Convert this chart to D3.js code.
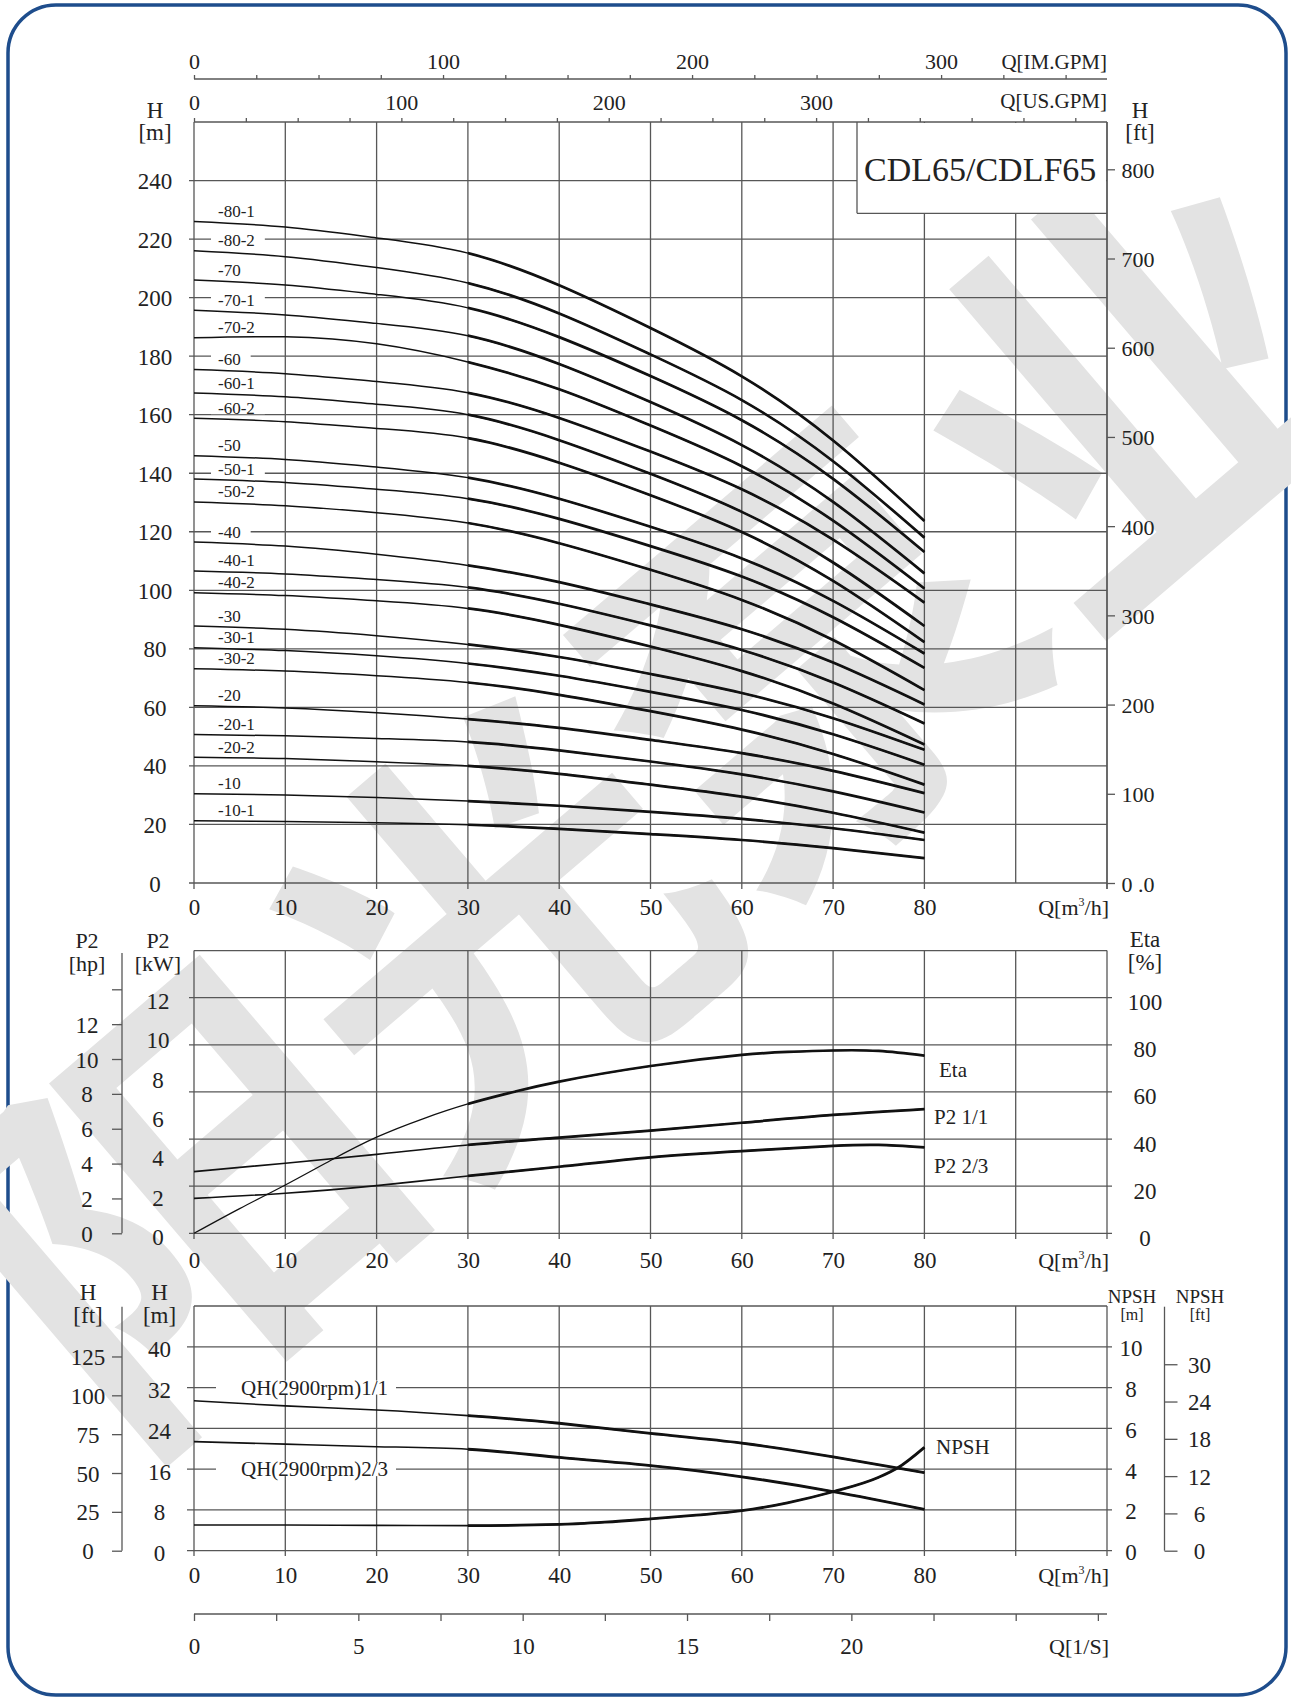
<!DOCTYPE html>
<html><head><meta charset="utf-8">
<script src="https://cdnjs.cloudflare.com/ajax/libs/d3/7.8.5/d3.min.js"></script>
<style>
body{margin:0;background:#fff}
</style>
</head><body>
<svg id="c" width="1291" height="1697"></svg>
<script>
// ---------------- DATA ----------------
const qPoints = [0,10,20,30,40,50,60,70,80];
const stageLabels = ["-80-1","-80-2","-70","-70-1","-70-2","-60","-60-1","-60-2","-50","-50-1","-50-2",
  "-40","-40-1","-40-2","-30","-30-1","-30-2","-20","-20-1","-20-2","-10","-10-1"];
const headCurves = [
  [226,224.1,220.4,215.2,204.2,189.6,173.1,151.2,123.7],
  [216,214.0,210.3,205,194.6,180.6,165.0,144.1,118],
  [206,204.3,201.1,196.5,186.5,173.2,158.1,138.1,113.1],
  [195.7,194.1,191.2,187,177.3,164.3,149.6,130.2,105.8],
  [186.3,186.6,184.2,178,168.7,156.3,142.4,123.8,100.6],
  [175.4,174.0,171.3,167.5,158.9,147.4,134.5,117.3,95.8],
  [167.4,166.1,163.6,160,151.3,139.8,126.8,109.5,87.8],
  [158.8,157.6,155.3,152,143.6,132.5,119.9,103.2,82.3],
  [146,144.7,142.1,138.5,131.3,121.7,110.9,96.4,78.4],
  [138,136.8,134.5,131.3,124.4,115.1,104.7,90.8,73.5],
  [130.2,128.9,126.5,123,116.1,107.0,96.7,83.0,65.9],
  [116.5,115.1,112.3,108.5,102.8,95.2,86.7,75.3,61],
  [106.6,105.6,103.7,101,95.4,88.0,79.6,68.5,54.5],
  [99.2,98.2,96.4,93.8,88.2,80.8,72.4,61.3,47.3],
  [87.8,86.7,84.5,81.5,77.2,71.4,64.9,56.3,45.5],
  [80.4,79.4,77.6,75,70.8,65.3,59.1,50.8,40.4],
  [73.2,72.4,70.8,68.5,64.3,58.7,52.4,44.1,33.6],
  [60.6,59.8,58.2,56,53.0,48.9,44.4,38.3,30.7],
  [50.7,50.3,49.4,48.2,45.3,41.5,37.1,31.3,24.1],
  [43,42.5,41.4,40,37.3,33.6,29.5,24.0,17.2],
  [30.5,30.1,29.2,28,26.4,24.3,21.9,18.7,14.7],
  [21.3,21.0,20.6,19.9,18.5,16.7,14.7,11.9,8.5]
];
const etaQ = [0,5,10,15,20,25,30,35,40,50,60,65,70,75,80];
const etaValues = [0,10.5,20.5,31,40.8,48.5,54.9,60,64.4,71,75.7,77,77.6,77.4,75.4];
const p2FullValues = [3.14,3.57,4.02,4.5,4.87,5.23,5.63,6.03,6.33];
const p2TwoThirdQ = [0,10,20,30,40,50,60,70,75,80];
const p2TwoThirdValues = [1.78,2.04,2.43,2.92,3.39,3.87,4.19,4.45,4.5,4.38];
const qhFullValues = [29.4,28.4,27.6,26.5,25,23.0,21.1,18.4,15.3];
const qhTwoThirdValues = [21.4,20.9,20.4,19.9,18.3,16.7,14.5,11.6,8.1];
const npshQ = [0,10,20,30,40,45,50,55,60,65,70,75,77,80];
const npshValues = [1.26,1.26,1.24,1.23,1.29,1.4,1.56,1.74,1.96,2.35,2.89,3.6,4.04,5.07];

const qTicks = [0,10,20,30,40,50,60,70,80];
const headTicksM = [0,20,40,60,80,100,120,140,160,180,200,220,240];
const headTicksFt = [0,100,200,300,400,500,600,700,800];
const imGpmLabels = [0,100,200,300];
const usGpmLabels = [0,100,200,300];
const etaTicks = [0,20,40,60,80,100];
const kwTicks = [0,2,4,6,8,10,12];
const hpTicks = [0,2,4,6,8,10,12];
const bottomHmTicks = [0,8,16,24,32,40];
const bottomHftTicks = [0,25,50,75,100,125];
const npshMTicks = [0,2,4,6,8,10];
const npshFtTicks = [0,6,12,18,24,30];
const lsLabels = [0,5,10,15,20];
const watermarkText = "阳光泵业";

// ---------------- SETUP ----------------
const SERIF = '"Liberation Serif","Times New Roman",serif';
const svg = d3.select("#c");
const GRID = "#575757", GW = 1.3;
const FT = 3.28084;
const x = d3.scaleLinear([0,100],[194,1107]);
const xIm = d3.scaleLinear([0,100*3.6662],[194,1107]);
const xUs = d3.scaleLinear([0,100*4.40287],[194,1107]);
const xLs = d3.scaleLinear([0,100/3.6],[194,1107]);
const yTop = d3.scaleLinear([0,260],[883,122]);
const yTopFt = d3.scaleLinear([0,260*FT],[883,122]);
const yMid = d3.scaleLinear([0,120],[1233.3,950.6]);
const yKw = d3.scaleLinear([0,14.4],[1233.3,950.6]);
const yHp = d3.scaleLinear([0,14],[1233.3,989.3]);
const yBot = d3.scaleLinear([0,48],[1550.7,1306]);
const yBotFt = d3.scaleLinear([0,48*FT],[1550.7,1306]);
const yNpsh = d3.scaleLinear([0,12],[1550.7,1306]);
const yNpshFt = d3.scaleLinear([0,12*FT],[1550.7,1306]);

function ln(g,x1,y1,x2,y2,w=GW,c=GRID){
  g.append("line").attr("x1",x1).attr("y1",y1).attr("x2",x2).attr("y2",y2)
   .attr("stroke",c).attr("stroke-width",w);
}
function txt(g,xx,yy,s,size,anchor="start"){
  return g.append("text").attr("x",xx).attr("y",yy).attr("font-size",size)
    .attr("text-anchor",anchor).attr("fill","#222").style("font-family",SERIF).text(s);
}
function styleAxis(g,size,anchor,tx,ty){
  g.attr("font-family",null).attr("font-size",null);
  g.select(".domain").remove();
  g.selectAll(".tick line").attr("stroke",GRID).attr("stroke-width",GW);
  const t = g.selectAll(".tick text").attr("font-size",size).attr("fill","#222").style("font-family",SERIF);
  if(anchor) t.attr("text-anchor",anchor);
  if(tx!=null) t.attr("x",tx);
  if(ty!=null) t.attr("dy",null).attr("y",ty);
}
function qLabel(g,yy){
  const t = g.append("text").attr("x",1109).attr("y",yy).attr("font-size",22).attr("text-anchor","end")
    .attr("fill","#222").style("font-family",SERIF);
  t.append("tspan").text("Q[m");
  t.append("tspan").attr("font-size",12).attr("dy",-9).text("3");
  t.append("tspan").attr("dy",9).text("/h]");
}
const defs = svg.append("defs");
function clipFrom(id,q,y0,y1){
  defs.append("clipPath").attr("id",id).append("rect")
    .attr("x",x(q)).attr("y",y0).attr("width",1291).attr("height",y1-y0);
}
clipFrom("thickTop",30,100,900);
clipFrom("thickMid",30,940,1240);
clipFrom("thickBot",30,1290,1560);
function drawCurve(g,qs,vals,yS,clipId,thin,thick,curve=d3.curveNatural){
  const gen = d3.line().x((d,i)=>x(qs[i])).y(d=>yS(d)).curve(curve);
  g.append("path").attr("d",gen(vals)).attr("fill","none").attr("stroke","#111").attr("stroke-width",thin);
  g.append("path").attr("d",gen(vals)).attr("fill","none").attr("stroke","#111").attr("stroke-width",thick)
    .attr("clip-path",`url(#${clipId})`);
}

// ---------------- OUTER FRAME ----------------
svg.append("rect").attr("x",8).attr("y",5).attr("width",1278).attr("height",1690)
  .attr("rx",48).attr("ry",48).attr("fill","#fff").attr("stroke","#1e4d8c").attr("stroke-width",3.5);

// ---------------- WATERMARK ----------------
svg.append("text").attr("x",0).attr("y",0)
  .attr("transform","translate(640,775) rotate(-40.5)")
  .attr("text-anchor","middle").attr("dominant-baseline","central")
  .attr("font-size",420).attr("font-weight",700)
  .style("font-family",'"Noto Sans CJK SC",sans-serif')
  .attr("fill","#e3e3e3").text(watermarkText);

// ---------------- TOP CHART ----------------
const topG = svg.append("g");
headTicksM.forEach(h=>ln(topG,189,yTop(h),1107,yTop(h)));
ln(topG,194,122,1107,122);
d3.range(0,101,10).forEach(q=>ln(topG,x(q),122,x(q),q===90?883:889));
topG.append("rect").attr("x",857).attr("y",123).attr("width",249).attr("height",90.3).attr("fill","#fff");
ln(topG,857,122,857,213.3); ln(topG,857,213.3,1107,213.3);
ln(topG,1107,122,1107,889);
txt(topG,864,181,"CDL65/CDLF65",34);

const gIm = topG.append("g").attr("transform","translate(0,79)")
  .call(d3.axisTop(xIm).tickValues(d3.range(0,351,25)).tickSize(4).tickPadding(6)
  .tickFormat(d=>imGpmLabels.includes(d)?d:""));
styleAxis(gIm,22);
ln(topG,194,79,1107,79);
txt(topG,1107,69,"Q[IM.GPM]",21,"end");
const gUs = topG.append("g").attr("transform","translate(0,122)")
  .call(d3.axisTop(xUs).tickValues(d3.range(0,426,25)).tickSize(4).tickPadding(8)
  .tickFormat(d=>usGpmLabels.includes(d)?d:""));
styleAxis(gUs,22);
txt(topG,1107,108,"Q[US.GPM]",21,"end");

const gH = topG.append("g").attr("transform","translate(194,0)")
  .call(d3.axisLeft(yTop).tickValues(headTicksM).tickSize(0));
styleAxis(gH,23,"middle",-39,8);
txt(topG,155,118,"H",23,"middle");
txt(topG,155,140,"[m]",23,"middle");
const gFt = topG.append("g").attr("transform","translate(1107,0)")
  .call(d3.axisRight(yTopFt).tickValues(headTicksFt).tickSize(8)
  .tickFormat(d=>d===0?"0 .0":d));
styleAxis(gFt,22,"middle",31,8);
txt(topG,1140,118,"H",23,"middle");
txt(topG,1140,140,"[ft]",23,"middle");
const gQ1 = topG.append("g").attr("transform","translate(0,883)")
  .call(d3.axisBottom(x).tickValues(qTicks).tickSize(0));
styleAxis(gQ1,23,"middle",null,32);
qLabel(topG,915);

headCurves.forEach(c=>drawCurve(topG,qPoints,c,yTop,"thickTop",1.5,2.7));
stageLabels.forEach((s,i)=>{
  const yy = yTop(headCurves[i][0]) - 10;
  const r = topG.append("rect").attr("x",211).attr("y",yy-6).attr("height",12).attr("fill","#fff");
  const t = txt(topG,218,yy+5.5,s,17);
  r.attr("width",t.node().getComputedTextLength()+17);
});

// ---------------- MIDDLE CHART ----------------
const midG = svg.append("g");
etaTicks.forEach(e=>ln(midG,189,yMid(e),1112,yMid(e)));
ln(midG,194,yMid(120),1107,yMid(120));
d3.range(0,101,10).forEach(q=>ln(midG,x(q),yMid(120),x(q),1239));
const gKw = midG.append("g").attr("transform","translate(194,0)")
  .call(d3.axisLeft(yKw).tickValues(kwTicks).tickSize(0));
styleAxis(gKw,23,"middle",-36,11);
txt(midG,158,948,"P2",22,"middle");
txt(midG,158,971,"[kW]",22,"middle");
ln(midG,122,953,122,1233.3);
const gHp = midG.append("g").attr("transform","translate(122,0)")
  .call(d3.axisLeft(yHp).tickValues(d3.range(0,15,2)).tickSize(10)
  .tickFormat(d=>hpTicks.includes(d)?d:""));
styleAxis(gHp,23,"middle",-35,8);
txt(midG,87,948,"P2",22,"middle");
txt(midG,87,971,"[hp]",22,"middle");
const gEta = midG.append("g").attr("transform","translate(1107,0)")
  .call(d3.axisRight(yMid).tickValues(etaTicks).tickSize(0));
styleAxis(gEta,23,"middle",38,12);
txt(midG,1145,947,"Eta",23,"middle");
txt(midG,1145,970,"[%]",23,"middle");
const gQ2 = midG.append("g").attr("transform","translate(0,1233.3)")
  .call(d3.axisBottom(x).tickValues(qTicks).tickSize(0));
styleAxis(gQ2,23,"middle",null,35);
qLabel(midG,1268);
drawCurve(midG,etaQ,etaValues,yMid,"thickMid",1.3,2.7);
drawCurve(midG,qPoints,p2FullValues,yKw,"thickMid",1.6,2.7);
drawCurve(midG,p2TwoThirdQ,p2TwoThirdValues,yKw,"thickMid",1.6,2.7);
txt(midG,939,1077,"Eta",21);
txt(midG,934,1123.5,"P2 1/1",21);
txt(midG,934,1172.5,"P2 2/3",21);

// ---------------- BOTTOM CHART ----------------
const botG = svg.append("g");
bottomHmTicks.forEach(h=>ln(botG,187,yBot(h),1112,yBot(h)));
ln(botG,194,yBot(48),1107,yBot(48));
d3.range(0,101,10).forEach(q=>ln(botG,x(q),yBot(48),x(q),1556));
const gBm = botG.append("g").attr("transform","translate(194,0)")
  .call(d3.axisLeft(yBot).tickValues(bottomHmTicks).tickSize(0));
styleAxis(gBm,23,"middle",-34.5,10);
txt(botG,159.5,1300,"H",23,"middle");
txt(botG,159.5,1323,"[m]",23,"middle");
ln(botG,122,1306.7,122,1550.7);
const gBf = botG.append("g").attr("transform","translate(122,0)")
  .call(d3.axisLeft(yBotFt).tickValues(bottomHftTicks).tickSize(10));
styleAxis(gBf,23,"middle",-34,8);
txt(botG,88,1300,"H",23,"middle");
txt(botG,88,1323,"[ft]",23,"middle");
const gNm = botG.append("g").attr("transform","translate(1107,0)")
  .call(d3.axisRight(yNpsh).tickValues(npshMTicks).tickSize(0));
styleAxis(gNm,23,"middle",24,9);
txt(botG,1132,1303,"NPSH",19,"middle");
txt(botG,1132,1320,"[m]",16,"middle");
ln(botG,1164.5,1306.7,1164.5,1550.7);
const gNf = botG.append("g").attr("transform","translate(1164.5,0)")
  .call(d3.axisRight(yNpshFt).tickValues(npshFtTicks).tickSize(13));
styleAxis(gNf,23,"middle",35,8);
txt(botG,1200,1303,"NPSH",19,"middle");
txt(botG,1200,1320,"[ft]",16,"middle");
const gQ3 = botG.append("g").attr("transform","translate(0,1550.7)")
  .call(d3.axisBottom(x).tickValues(qTicks).tickSize(0));
styleAxis(gQ3,23,"middle",null,32);
qLabel(botG,1583);
[["QH(2900rpm)1/1",32],["QH(2900rpm)2/3",16]].forEach(([s,h])=>{
  botG.append("rect").attr("x",216).attr("y",yBot(h)-7).attr("width",180).attr("height",14).attr("fill","#fff");
  txt(botG,241,yBot(h)+7,s,21);
});
drawCurve(botG,qPoints,qhFullValues,yBot,"thickBot",1.6,2.8);
drawCurve(botG,qPoints,qhTwoThirdValues,yBot,"thickBot",1.6,2.8);
drawCurve(botG,npshQ,npshValues,yNpsh,"thickBot",1.6,2.8,d3.curveMonotoneX);
txt(botG,936,1454,"NPSH",21);

const gLs = svg.append("g").attr("transform","translate(0,1614)")
  .call(d3.axisBottom(xLs).tickValues(d3.range(0,27.6,2.5)).tickSize(7).tickPadding(17)
  .tickFormat(d=>lsLabels.includes(d)?d:""));
styleAxis(gLs,23,"middle");
ln(svg,194,1614,1107,1614);
txt(svg,1109,1654,"Q[1/S]",22,"end");
</script>
</body></html>
